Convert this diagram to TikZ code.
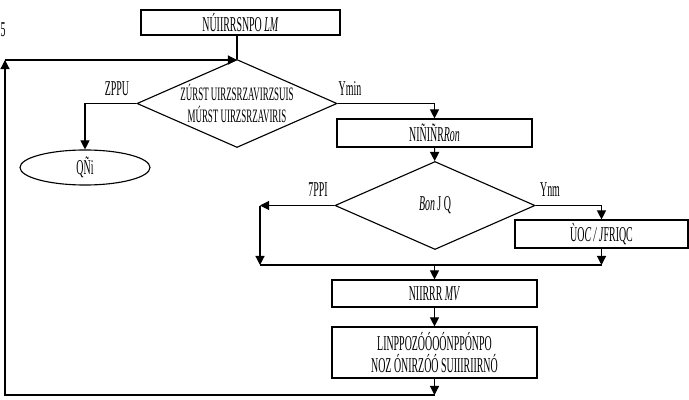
\documentclass[tikz,border=0pt]{standalone}
\usepackage{fontspec}
\setmainfont{Liberation Serif}[FakeStretch=0.47]
\usetikzlibrary{shapes.geometric,arrows.meta}

\begin{document}
\begin{tikzpicture}[x=0.025cm,y=-0.025cm,
  font=\fontsize{15}{16}\selectfont,
  box/.style={draw, rectangle, line width=0.8pt, inner sep=1pt, align=center},
  cond/.style={draw, diamond, line width=0.8pt, inner xsep=-8pt, inner ysep=0pt, shape aspect=2.3, align=center, minimum width=5cm, minimum height=2.2cm},
  tip/.style={line width=0.8pt, -{Triangle[length=6.5pt,width=6.5pt]}},
  wire/.style={line width=0.8pt}]
\useasboundingbox (0,0) rectangle (689,400);
\node (mark) at (3,30) {5};
\node[box, minimum width=4.975cm, minimum height=0.625cm] (start) at (240.5,22.5) {NÚIIRRSNPO \textit{LM}};
\node[cond, font=\fontsize{13.5}{15}\selectfont] (check) at (237,103.5) {ZÚRST UIRZSRZAVIRZSUIS\\MÚRST UIRZSRZAVIRIS};
\node[draw, ellipse, line width=0.8pt, inner sep=0pt, minimum width=3.25cm, minimum height=0.875cm] (stop) at (85,167.5) {QÑi};
\node (no) at (117,89) {ZPPU};
\node (yes) at (350,89) {Ymin};
\node[box, minimum width=4.875cm, minimum height=0.7cm] (calc) at (434.5,133) {NIÑIÑR\textit{Ron}};
\node[cond] (test) at (435,205.5) {\textit{Bon} J Q};
\node (no2) at (318,190) {7PPI};
\node (yes2) at (550,190) {Ynm};
\node[box, minimum width=4.325cm, minimum height=0.7cm] (adjust) at (601.5,234) {ÙO\textit{C / J}FRIQC};
\node[box, minimum width=5.125cm, minimum height=0.675cm] (update) at (434.5,293.5) {NIIRRR \textit{MV}};
\node[box, minimum width=5.125cm, minimum height=1.275cm] (save) at (434.5,352.5) {LINPPOZÓÓOÓNPPÓNPO\\NOZ ÓNIRZÓÓ SUIIIRIIRNÓ};
\coordinate (bendL) at (260,205.5);
\coordinate (joinL) at (260,265);
\coordinate (joinR) at (601.5,265);
\coordinate (merge) at (434.5,265);
\coordinate (loopA) at (434.5,395);
\coordinate (loopB) at (5,395);
\coordinate (loopC) at (5,60);
% top part
\draw[wire] (start.south -| check.north) -- (check.north);
\draw[tip] (check.west) -| (stop.north);
\draw[tip] (check.east) -| (calc.north);
\draw[tip] (calc) -- (test);
% second test
\draw[tip] (test.west) -- (bendL);
\draw[tip] (bendL) -- (joinL);
\draw[tip] (test.east) -| (adjust.north);
\draw[tip] (adjust.south) -- (joinR);
\draw[wire] (joinL) -- (joinR);
\draw[tip] (merge) -- (update);
\draw[tip] (update) -- (save);
% back to the start
\draw[tip] (save.south) -- (loopA);
\draw[tip] (loopA) -- (loopB) -- (loopC);
\draw[tip] (loopC) -- (loopC -| check.north);
\end{tikzpicture}
\end{document}
